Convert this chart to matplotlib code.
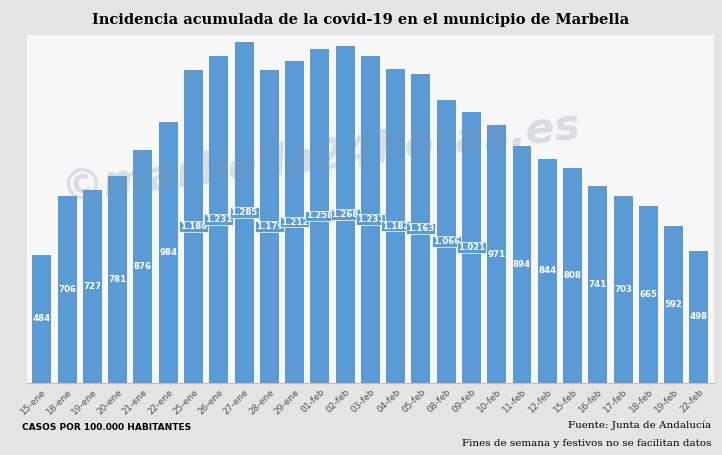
import matplotlib.pyplot as plt
import numpy as np

fechas = ['15-ene', '18-ene', '19-ene', '20-ene', '21-ene', '22-ene', '25-ene', '26-ene', '27-ene',
          '28-ene', '29-ene', '01-feb', '02-feb', '03-feb', '04-feb', '05-feb', '08-feb', '09-feb',
          '10-feb', '11-feb', '12-feb', '15-feb', '16-feb', '17-feb', '18-feb', '19-feb', '22-feb']
incidencia = [484, 706, 727, 781, 876, 984, 1180, 1231, 1285, 1179, 1212, 1258, 1268, 1231,
              1182, 1163, 1066, 1021, 971, 894, 844, 808, 741, 703, 665, 592, 498]

fig = plt.figure(figsize=(7.22, 4.55), dpi=100, facecolor='#e4e4e4')
ax = fig.add_axes([0.037, 0.158, 0.952, 0.765])
ax.set_facecolor('#f7f7f7')

x = np.arange(len(fechas))
ax.bar(x, incidencia, width=0.75, color='#5b9bd5', zorder=2)
for xi, v in zip(x, incidencia):
    txt = f'{v:,}'.replace(',', '.')
    ax.text(xi, v / 2, txt, ha='center', va='center', color='white', fontsize=6.2,
            fontweight='bold', zorder=4,
            bbox=dict(boxstyle='square,pad=0.1', fc='#5b9bd5', ec='white', lw=0.5) if v >= 1000 else None)

ax.set_xlim(-0.6, len(fechas) - 0.4)
ax.set_ylim(0, 1310)
ax.set_yticks([])
ax.set_xticks(x)
ax.set_xticklabels(fechas, rotation=45, ha='right', fontsize=6.5, color='#555555', rotation_mode='anchor')
ax.tick_params(axis='x', length=0, pad=3)
for s in ['top', 'right', 'left']:
    ax.spines[s].set_visible(False)
ax.spines['bottom'].set_color('#bfbfbf')

# marca de agua
fig.text(0.08, 0.56, '©marbella24horas.es', fontsize=31, fontweight='bold', fontstyle='italic',
         color='#7a8fa6', alpha=0.25, rotation=7, zorder=10)

fig.text(0.5, 0.955, 'Incidencia acumulada de la covid-19 en el municipio de Marbella',
         ha='center', va='center', fontsize=10.5, fontweight='bold', family='DejaVu Serif')
fig.text(0.03, 0.055, 'CASOS POR 100.000 HABITANTES', fontsize=6.5, fontweight='bold', family='DejaVu Sans')
fig.text(0.985, 0.06, 'Fuente: Junta de Andalucía', ha='right', fontsize=7.5, family='DejaVu Serif')
fig.text(0.985, 0.02, 'Fines de semana y festivos no se facilitan datos', ha='right', fontsize=7.5,
         family='DejaVu Serif')

fig.savefig('out.png', dpi=100, facecolor=fig.get_facecolor())
